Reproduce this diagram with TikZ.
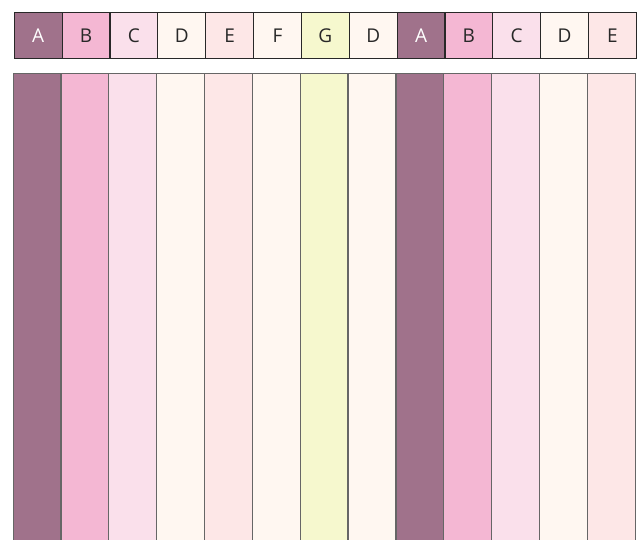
\documentclass[tikz,border=0pt]{standalone}
\usepackage{fontspec}
\setmainfont{Open Sans}
\definecolor{cA}{RGB}{160,114,139}
\definecolor{cB}{RGB}{244,183,211}
\definecolor{cC}{RGB}{250,224,235}
\definecolor{cD}{RGB}{255,247,241}
\definecolor{cE}{RGB}{253,231,231}
\definecolor{cF}{RGB}{255,247,241}
\definecolor{cG}{RGB}{246,248,206}
\definecolor{txt}{RGB}{40,40,40}
\tikzset{
  cell/.style={draw=txt, line width=1.2pt, minimum width=47.85pt, minimum height=46.6pt, inner sep=0pt, anchor=north west, font=\fontsize{19}{19}\selectfont},
  stripe/.style={draw=black!60, line width=1.2pt, inner sep=0pt, minimum width=47.85pt, minimum height=480pt, anchor=north west}
}
\begin{document}
\begin{tikzpicture}[x=1pt,y=-1pt]
\useasboundingbox (0,0) rectangle (640,540);
\foreach \l/\c/\tc [count=\i from 0] in {A/cA/white,B/cB/txt,C/cC/txt,D/cD/txt,E/cE/txt,F/cF/txt,G/cG/txt,D/cD/txt,A/cA/white,B/cB/txt,C/cC/txt,D/cD/txt,E/cE/txt}{
  \pgfmathsetmacro{\xx}{13.7+\i*47.85}
  \node[cell, fill=\c, text=\tc] (t\i) at (\xx,11.7) {\l};
  \node[stripe, fill=\c] (s\i) at (\xx-1.2,73.3) {};
}
\end{tikzpicture}
\end{document}
